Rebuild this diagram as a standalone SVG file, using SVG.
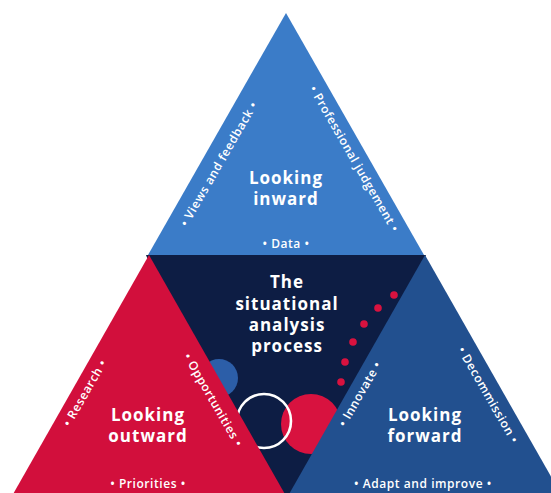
<svg xmlns="http://www.w3.org/2000/svg" width="551" height="493" viewBox="0 0 551 493">
  <style>
    .title { font-family: "Open Sans", "Liberation Sans", sans-serif; font-weight: 700; font-size: 17px; fill: #ffffff; text-anchor: middle; letter-spacing: 1px; }
    .item { font-family: "Open Sans", "Liberation Sans", sans-serif; font-weight: 600; font-size: 12px; fill: #ffffff; text-anchor: middle; letter-spacing: 0.55px; }
    .dot { fill: #d8123f; }
  </style>
  <rect width="551" height="493" fill="#ffffff"/>

  <g id="center">
    <polygon points="146,255 426,255 330,500 245,500" fill="#0d1d44"/>
    <circle cx="219" cy="378" r="19" fill="#2c5ea8"/>
    <circle cx="311" cy="424" r="30" fill="#d8123f"/>
    <circle cx="264" cy="421" r="27" fill="none" stroke="#ffffff" stroke-width="2.6"/>
    <g id="dots">
      <circle class="dot" cx="394" cy="295" r="3.8"/>
      <circle class="dot" cx="378" cy="308" r="3.8"/>
      <circle class="dot" cx="364" cy="324" r="3.8"/>
      <circle class="dot" cx="353" cy="342" r="3.8"/>
      <circle class="dot" cx="345" cy="362" r="3.8"/>
      <circle class="dot" cx="341" cy="382" r="3.8"/>
    </g>
    <text class="title"><tspan x="287" y="288">The</tspan><tspan x="287" y="310">situational</tspan><tspan x="287" y="331">analysis</tspan><tspan x="287" y="352">process</tspan></text>
  </g>

  <g id="inward">
    <polygon points="286,13 148,255 424,255" fill="#3b7cc8"/>
    <text class="title"><tspan x="286" y="184">Looking</tspan><tspan x="286" y="205">inward</tspan></text>
    <text class="item" x="286" y="248">• Data •</text>
    <text class="item" transform="translate(219,164) rotate(-60)" y="4">• Views and feedback •</text>
    <text class="item" transform="translate(354,159) rotate(60)" y="4">• Professional judgement •</text>
  </g>

  <g id="outward">
    <polygon points="149,255 9.7,500 288.3,500" fill="#d20f3c"/>
    <text class="title"><tspan x="148" y="421">Looking</tspan><tspan x="148" y="442">outward</tspan></text>
    <text class="item" x="148" y="488">• Priorities •</text>
    <text class="item" transform="translate(85,393) rotate(-60)" y="4">• Research •</text>
    <text class="item" transform="translate(213,400) rotate(60)" y="4">• Opportunities •</text>
  </g>

  <g id="forward">
    <polygon points="425,255 285.7,500 564.3,500" fill="#22508f"/>
    <text class="title"><tspan x="425" y="421">Looking</tspan><tspan x="425" y="442">forward</tspan></text>
    <text class="item" x="423" y="488">• Adapt and improve •</text>
    <text class="item" transform="translate(360,394) rotate(-60)" y="4">• Innovate •</text>
    <text class="item" transform="translate(488,395) rotate(60)" y="4">• Decommission •</text>
  </g>

  <g id="connectors"/>
</svg>
